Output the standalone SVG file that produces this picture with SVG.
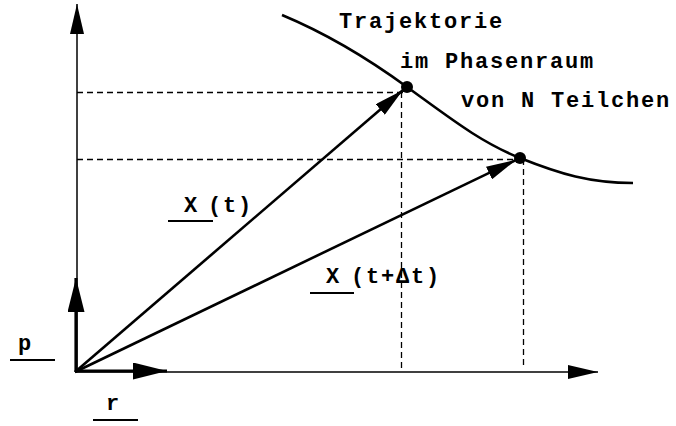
<svg xmlns="http://www.w3.org/2000/svg" width="676" height="426" viewBox="0 0 676 426">
<style>
.t{font-family:"Liberation Mono","Courier New",monospace;font-weight:bold;font-size:22px;letter-spacing:1.8px;fill:#000}
.thin{stroke:#000;stroke-width:1.5;fill:none}
.thick{stroke:#000;stroke-width:2.6;fill:none}
.bold{stroke:#000;stroke-width:3.2;fill:none}
.dash{stroke:#000;stroke-width:1.3;stroke-dasharray:6,4;fill:none}
.ul{stroke:#000;stroke-width:2;fill:none}
</style>
<defs>
<marker id="ah" viewBox="0 0 30 14" refX="30" refY="7" markerWidth="30" markerHeight="14" markerUnits="userSpaceOnUse" orient="auto"><path d="M0,0 L30,7 L0,14 Z" fill="#000"/></marker>
<marker id="ahb" viewBox="0 0 34 17" refX="34" refY="8.5" markerWidth="34" markerHeight="17" markerUnits="userSpaceOnUse" orient="auto"><path d="M0,0 L34,8.5 L0,17 Z" fill="#000"/></marker>
</defs>
<g id="dashes">
<line class="dash" x1="77" y1="92.5" x2="403" y2="92.5"/>
<line class="dash" x1="401.5" y1="92" x2="401.5" y2="370"/>
<line class="dash" x1="77" y1="159.5" x2="520" y2="159.5"/>
<line class="dash" x1="523.5" y1="159" x2="523.5" y2="368"/>
</g>
<g id="axes">
<line class="thin" x1="77" y1="372" x2="77" y2="4" marker-end="url(#ah)"/>
<line class="thin" x1="75" y1="372" x2="598" y2="372" marker-end="url(#ah)"/>
</g>
<g id="trajectory">
<path class="thick" d="M282,15 C330,35 370,60 407,87 C450,118 480,142 520,158 C560,174 590,183 633,183"/>
<circle cx="407" cy="87" r="6" fill="#000"/>
<circle cx="520" cy="158" r="6" fill="#000"/>
</g>
<g id="connectors">
<line class="thick" x1="75" y1="372" x2="403" y2="90" marker-end="url(#ah)"/>
<line class="thick" x1="75" y1="372" x2="516" y2="160" marker-end="url(#ah)"/>
<line class="bold" x1="76" y1="372" x2="76" y2="278" marker-end="url(#ahb)"/>
<line class="bold" x1="75" y1="371" x2="167" y2="371" marker-end="url(#ahb)"/>
</g>
<g id="labels">
<text class="t" x="339" y="28">Trajektorie</text>
<text class="t" x="400" y="68">im Phasenraum</text>
<text class="t" x="461" y="107">von N Teilchen</text>
<text class="t" x="184" y="212">X</text>
<text class="t" x="208" y="212">(t)</text>
<line class="ul" x1="168" y1="221" x2="213" y2="221"/>
<text class="t" x="326" y="283">X</text>
<text class="t" x="351" y="283">(t+Δt)</text>
<line class="ul" x1="310" y1="293" x2="354" y2="293"/>
<text class="t" x="18" y="350">p</text>
<line class="ul" x1="10" y1="360" x2="55" y2="360"/>
<text class="t" x="106" y="410">r</text>
<line class="ul" x1="93" y1="420" x2="138" y2="420"/>
</g>
</svg>
